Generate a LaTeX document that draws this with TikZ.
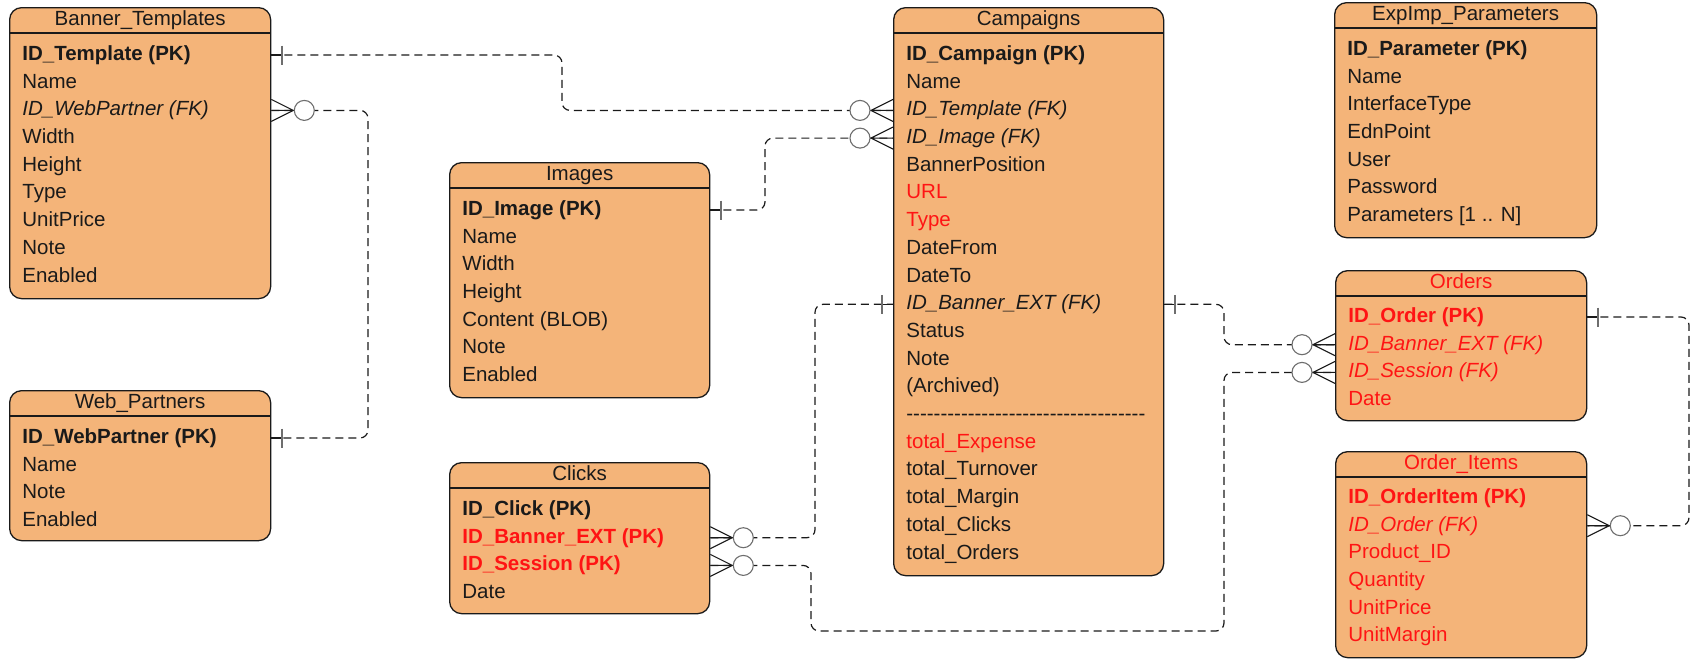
\documentclass[tikz,border=0pt]{standalone}
\usepackage{fontspec}
\setmainfont{Liberation Sans}
\usepackage{xcolor}
\usetikzlibrary{calc}
\definecolor{erpeach}{HTML}{F4B479}
\definecolor{erink}{HTML}{1A1A1A}
\definecolor{erred}{HTML}{FF1414}
\definecolor{ergray}{HTML}{6E6E6E}
\newcommand\erfont{\fontsize{10.25}{12}\selectfont}
\newcommand\dashrow{\foreach \k in {1,...,35}{-\kern0pt}}

\begin{document}
\begin{tikzpicture}[x=0.5pt, y=-0.5pt,
  entity/.style={draw=erink, line width=0.65pt, fill=erpeach, rounded corners=6pt, anchor=north west, inner sep=0pt},
  headline/.style={draw=erink, line width=0.65pt},
  title/.style={inner sep=0pt, font=\erfont, text=erink, text height=7.6pt, text depth=2.2pt},
  row/.style={anchor=west, inner sep=0pt, font=\erfont, text=erink, text height=7.6pt, text depth=2.2pt},
  pk/.style={font=\erfont\bfseries},
  fk/.style={font=\erfont\itshape},
  hot/.style={text=erred},
  pkhot/.style={pk, hot},
  fkhot/.style={fk, hot},
  link/.style={draw=erink, line width=0.6pt, dash pattern=on 4pt off 2.5pt, rounded corners=4pt},
  footline/.style={draw=erink, line width=0.55pt},
  onebar/.style={draw=ergray, line width=1.1pt},
  onemark/.pic={\draw[footline] (0,0) -- (11,0); \draw[onebar] (11,-9.5) -- (11,9.5);},
  manymark/.pic={\draw[footline] (0,-11) -- (22,0) -- (0,11) (0,0) -- (23,0);
    \draw[footline, draw=ergray, fill=white] (33,0) circle (10);}
]
\useasboundingbox (0,0) rectangle (1694,659);

% tables
\node[entity, minimum width=130.5pt, minimum height=145.5pt] (bt) at (9,7) {};
\node[title] (btt) at ($(bt.north)+(0,13)$) {Banner\_Templates};
\draw[headline] ($(bt.north west)+(0,26)$) -- ($(bt.north east)+(0,26)$);
\foreach \t/\s [count=\i] in {ID\_Template (PK)/pk, Name/, ID\_WebPartner (FK)/fk, Width/, Height/, Type/, UnitPrice/, Note/, Enabled/}
  \node[row,\s] (bt\i) at ($(bt.north west)+(13,20.3+27.7*\i)$) {\t};

\node[entity, minimum width=130.5pt, minimum height=75pt] (wp) at (9,390) {};
\node[title] (wpt) at ($(wp.north)+(0,13)$) {Web\_Partners};
\draw[headline] ($(wp.north west)+(0,26)$) -- ($(wp.north east)+(0,26)$);
\foreach \t/\s [count=\i] in {ID\_WebPartner (PK)/pk, Name/, Note/, Enabled/}
  \node[row,\s] (wp\i) at ($(wp.north west)+(13,20.3+27.7*\i)$) {\t};

\node[entity, minimum width=130pt, minimum height=117.5pt] (im) at (449,162) {};
\node[title] (imt) at ($(im.north)+(0,13)$) {Images};
\draw[headline] ($(im.north west)+(0,26)$) -- ($(im.north east)+(0,26)$);
\foreach \t/\s [count=\i] in {ID\_Image (PK)/pk, Name/, Width/, Height/, Content (BLOB)/, Note/, Enabled/}
  \node[row,\s] (im\i) at ($(im.north west)+(13,20.3+27.7*\i)$) {\t};

\node[entity, minimum width=130pt, minimum height=75.5pt] (ck) at (449,462) {};
\node[title] (ckt) at ($(ck.north)+(0,13)$) {Clicks};
\draw[headline] ($(ck.north west)+(0,26)$) -- ($(ck.north east)+(0,26)$);
\foreach \t/\s [count=\i] in {ID\_Click (PK)/pk, ID\_Banner\_EXT (PK)/pkhot, ID\_Session (PK)/pkhot, Date/}
  \node[row,\s] (ck\i) at ($(ck.north west)+(13,20.3+27.7*\i)$) {\t};

\node[entity, minimum width=135pt, minimum height=284pt] (cp) at (893,7) {};
\node[title] (cpt) at ($(cp.north)+(0,13)$) {Campaigns};
\draw[headline] ($(cp.north west)+(0,26)$) -- ($(cp.north east)+(0,26)$);
\foreach \t/\s [count=\i] in {ID\_Campaign (PK)/pk, Name/, ID\_Template (FK)/fk, ID\_Image (FK)/fk, BannerPosition/, URL/hot, Type/hot, DateFrom/, DateTo/, ID\_Banner\_EXT (FK)/fk, Status/, Note/, (Archived)/, \dashrow/, total\_Expense/hot, total\_Turnover/, total\_Margin/, total\_Clicks/, total\_Orders/}
  \node[row,\s] (cp\i) at ($(cp.north west)+(13,20.3+27.7*\i)$) {\t};

\node[entity, minimum width=131pt, minimum height=117.5pt] (ep) at (1334,2) {};
\node[title] (ept) at ($(ep.north)+(0,13)$) {ExpImp\_Parameters};
\draw[headline] ($(ep.north west)+(0,26)$) -- ($(ep.north east)+(0,26)$);
\foreach \t/\s [count=\i] in {ID\_Parameter (PK)/pk, Name/, InterfaceType/, EdnPoint/, User/, Password/, Parameters [1 .. N]/}
  \node[row,\s] (ep\i) at ($(ep.north west)+(13,20.3+27.7*\i)$) {\t};

\node[entity, minimum width=125.5pt, minimum height=75pt] (or) at (1335,270) {};
\node[title, hot] (ort) at ($(or.north)+(0,13)$) {Orders};
\draw[headline] ($(or.north west)+(0,26)$) -- ($(or.north east)+(0,26)$);
\foreach \t/\s [count=\i] in {ID\_Order (PK)/pkhot, ID\_Banner\_EXT (FK)/fkhot, ID\_Session (FK)/fkhot, Date/hot}
  \node[row,\s] (or\i) at ($(or.north west)+(13,19.3+27.7*\i)$) {\t};

\node[entity, minimum width=125.5pt, minimum height=103pt] (oi) at (1335,451) {};
\node[title, hot] (oit) at ($(oi.north)+(0,13)$) {Order\_Items};
\draw[headline] ($(oi.north west)+(0,26)$) -- ($(oi.north east)+(0,26)$);
\foreach \t/\s [count=\i] in {ID\_OrderItem (PK)/pkhot, ID\_Order (FK)/fkhot, Product\_ID/hot, Quantity/hot, UnitPrice/hot, UnitMargin/hot}
  \node[row,\s] (oi\i) at ($(oi.north west)+(13,19.3+27.7*\i)$) {\t};

% lanes for the connectors
\coordinate (lane1) at (562,0);
\coordinate (lane2) at (368,0);
\coordinate (lane3) at (765,0);
\coordinate (lane4) at (815,0);
\coordinate (lane5) at (811,0);
\coordinate (lane6) at (1224,0);
\coordinate (lane7) at (1689,0);
\coordinate (low) at (0,631);

\draw[link] (bt.east |- bt1) -- (lane1 |- bt1) -- (lane1 |- cp3) -- (cp.west |- cp3);
\draw[link] (bt.east |- bt3) -- (lane2 |- bt3) -- (lane2 |- wp1) -- (wp.east |- wp1);
\draw[link] (im.east |- im1) -- (lane3 |- im1) -- (lane3 |- cp4) -- (cp.west |- cp4);
\draw[link] (ck.east |- ck2) -- (lane4 |- ck2) -- (lane4 |- cp10) -- (cp.west |- cp10);
\draw[link] (ck.east |- ck3) -- (lane5 |- ck3) -- (lane5 |- low) -- (lane6 |- low) -- (lane6 |- or3) -- (or.west |- or3);
\draw[link] (cp.east |- cp10) -- (lane6 |- cp10) -- (lane6 |- or2) -- (or.west |- or2);
\draw[link] (or.east |- or1) -- (lane7 |- or1) -- (lane7 |- oi2) -- (oi.east |- oi2);

% ends
\pic at (bt.east |- bt1) {onemark};
\pic[xscale=-1] at (cp.west |- cp3) {manymark};
\pic at (bt.east |- bt3) {manymark};
\pic at (wp.east |- wp1) {onemark};
\pic at (im.east |- im1) {onemark};
\pic[xscale=-1] at (cp.west |- cp4) {manymark};
\pic at (ck.east |- ck2) {manymark};
\pic[xscale=-1] at (cp.west |- cp10) {onemark};
\pic at (ck.east |- ck3) {manymark};
\pic[xscale=-1] at (or.west |- or3) {manymark};
\pic at (cp.east |- cp10) {onemark};
\pic[xscale=-1] at (or.west |- or2) {manymark};
\pic at (or.east |- or1) {onemark};
\pic at (oi.east |- oi2) {manymark};
\end{tikzpicture}
\end{document}
